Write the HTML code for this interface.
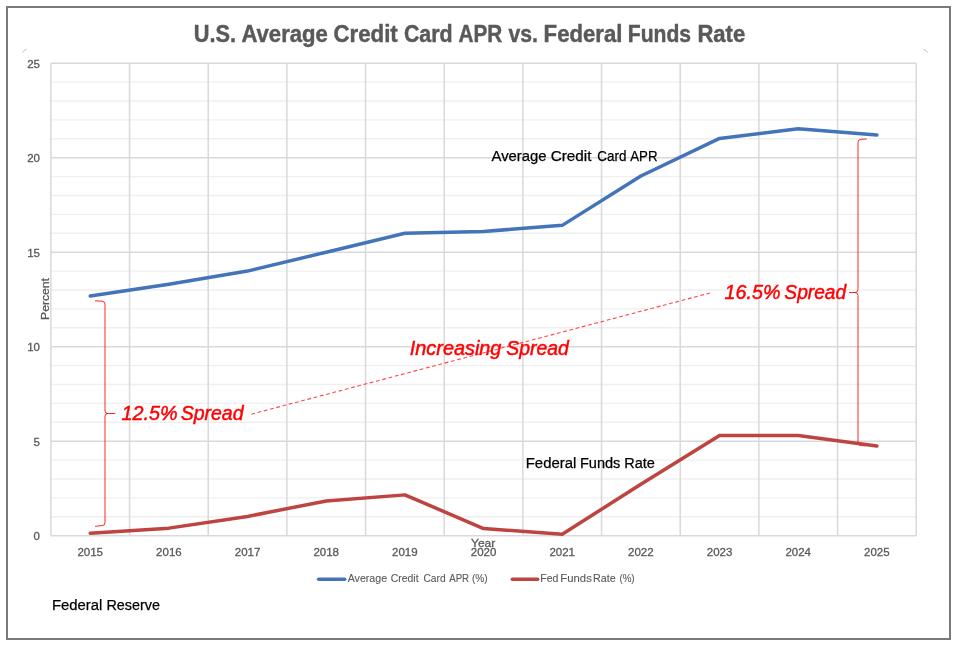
<!DOCTYPE html>
<html><head><meta charset="utf-8"><style>
html,body{margin:0;padding:0;background:#fff;}
svg{display:block;will-change:transform;}
text{font-family:"Liberation Sans",sans-serif;}
.ax{font-size:11.5px;fill:#595959;stroke:#595959;stroke-width:0.3px;}
.lab{font-size:15.3px;fill:#000;stroke:#000;stroke-width:0.25px;}
.red{font-size:20px;fill:#FF0000;font-style:italic;stroke:#FF0000;stroke-width:0.45px;}
.leg{font-size:10.7px;fill:#595959;stroke:#595959;stroke-width:0.1px;}
</style></head><body>
<svg width="964" height="649" viewBox="0 0 964 649">
<rect x="0" y="0" width="964" height="649" fill="#fff"/>
<rect x="7" y="7" width="943" height="632" fill="none" stroke="#797979" stroke-width="2"/>
<path d="M22.5,52.5 Q24,50 26.5,49.5" fill="none" stroke="#bbb" stroke-width="1"/>
<path d="M923.5,49.5 Q926,50 927.5,52.5" fill="none" stroke="#bbb" stroke-width="1"/>
<line x1="50.9" y1="516.80" x2="916.2" y2="516.80" stroke="#EFEFEF" stroke-width="1.4"/><line x1="50.9" y1="497.90" x2="916.2" y2="497.90" stroke="#EFEFEF" stroke-width="1.4"/><line x1="50.9" y1="479.00" x2="916.2" y2="479.00" stroke="#EFEFEF" stroke-width="1.4"/><line x1="50.9" y1="460.10" x2="916.2" y2="460.10" stroke="#EFEFEF" stroke-width="1.4"/><line x1="50.9" y1="422.30" x2="916.2" y2="422.30" stroke="#EFEFEF" stroke-width="1.4"/><line x1="50.9" y1="403.40" x2="916.2" y2="403.40" stroke="#EFEFEF" stroke-width="1.4"/><line x1="50.9" y1="384.50" x2="916.2" y2="384.50" stroke="#EFEFEF" stroke-width="1.4"/><line x1="50.9" y1="365.60" x2="916.2" y2="365.60" stroke="#EFEFEF" stroke-width="1.4"/><line x1="50.9" y1="327.80" x2="916.2" y2="327.80" stroke="#EFEFEF" stroke-width="1.4"/><line x1="50.9" y1="308.90" x2="916.2" y2="308.90" stroke="#EFEFEF" stroke-width="1.4"/><line x1="50.9" y1="290.00" x2="916.2" y2="290.00" stroke="#EFEFEF" stroke-width="1.4"/><line x1="50.9" y1="271.10" x2="916.2" y2="271.10" stroke="#EFEFEF" stroke-width="1.4"/><line x1="50.9" y1="233.30" x2="916.2" y2="233.30" stroke="#EFEFEF" stroke-width="1.4"/><line x1="50.9" y1="214.40" x2="916.2" y2="214.40" stroke="#EFEFEF" stroke-width="1.4"/><line x1="50.9" y1="195.50" x2="916.2" y2="195.50" stroke="#EFEFEF" stroke-width="1.4"/><line x1="50.9" y1="176.60" x2="916.2" y2="176.60" stroke="#EFEFEF" stroke-width="1.4"/><line x1="50.9" y1="138.80" x2="916.2" y2="138.80" stroke="#EFEFEF" stroke-width="1.4"/><line x1="50.9" y1="119.90" x2="916.2" y2="119.90" stroke="#EFEFEF" stroke-width="1.4"/><line x1="50.9" y1="101.00" x2="916.2" y2="101.00" stroke="#EFEFEF" stroke-width="1.4"/><line x1="50.9" y1="82.10" x2="916.2" y2="82.10" stroke="#EFEFEF" stroke-width="1.4"/><line x1="50.9" y1="535.70" x2="916.2" y2="535.70" stroke="#D9D9D9" stroke-width="1.5"/><line x1="50.9" y1="441.20" x2="916.2" y2="441.20" stroke="#D9D9D9" stroke-width="1.5"/><line x1="50.9" y1="346.70" x2="916.2" y2="346.70" stroke="#D9D9D9" stroke-width="1.5"/><line x1="50.9" y1="252.20" x2="916.2" y2="252.20" stroke="#D9D9D9" stroke-width="1.5"/><line x1="50.9" y1="157.70" x2="916.2" y2="157.70" stroke="#D9D9D9" stroke-width="1.5"/><line x1="50.9" y1="63.20" x2="916.2" y2="63.20" stroke="#D9D9D9" stroke-width="1.5"/><line x1="50.90" y1="63.2" x2="50.90" y2="535.7" stroke="#D9D9D9" stroke-width="1.5"/><line x1="129.56" y1="63.2" x2="129.56" y2="535.7" stroke="#D9D9D9" stroke-width="1.5"/><line x1="208.23" y1="63.2" x2="208.23" y2="535.7" stroke="#D9D9D9" stroke-width="1.5"/><line x1="286.89" y1="63.2" x2="286.89" y2="535.7" stroke="#D9D9D9" stroke-width="1.5"/><line x1="365.55" y1="63.2" x2="365.55" y2="535.7" stroke="#D9D9D9" stroke-width="1.5"/><line x1="444.22" y1="63.2" x2="444.22" y2="535.7" stroke="#D9D9D9" stroke-width="1.5"/><line x1="522.88" y1="63.2" x2="522.88" y2="535.7" stroke="#D9D9D9" stroke-width="1.5"/><line x1="601.55" y1="63.2" x2="601.55" y2="535.7" stroke="#D9D9D9" stroke-width="1.5"/><line x1="680.21" y1="63.2" x2="680.21" y2="535.7" stroke="#D9D9D9" stroke-width="1.5"/><line x1="758.87" y1="63.2" x2="758.87" y2="535.7" stroke="#D9D9D9" stroke-width="1.5"/><line x1="837.54" y1="63.2" x2="837.54" y2="535.7" stroke="#D9D9D9" stroke-width="1.5"/><line x1="916.20" y1="63.2" x2="916.20" y2="535.7" stroke="#D9D9D9" stroke-width="1.5"/>
<!-- annotations -->
<path d="M95,300.8 L102,301.2 Q105,301.5 105,304 L105,411 Q105,413.5 108,413.5 L115.2,413.5 M108,413.5 Q105,413.5 105,416 L105,523 Q105,525.5 102,525.6 L95,526.3" fill="none" stroke="#FF0000" stroke-width="1" stroke-opacity="0.85"/>
<path d="M866.7,139.0 L861,139.2 Q858,139.5 858,142.5 L858,289.5 Q858,292.5 855,292.5 L849,292.5 M855,292.5 Q858,292.5 858,295.5 L858,442.5 Q858,445.5 861,445.6 L866,445.8" fill="none" stroke="#FF0000" stroke-width="1" stroke-opacity="0.85"/>
<line x1="251.3" y1="414.2" x2="710" y2="293" stroke="#FF0000" stroke-width="1.1" stroke-dasharray="3.8,2.65" stroke-opacity="0.72"/>
<polyline points="90.23,296.05 168.90,284.33 247.56,271.10 326.22,252.20 404.89,233.30 483.55,231.41 562.21,225.36 640.88,176.03 719.54,138.42 798.20,128.78 876.87,135.02" fill="none" stroke="#4374B9" stroke-width="3.5" stroke-linejoin="round" stroke-linecap="round"/>
<polyline points="90.23,533.24 168.90,528.14 247.56,516.42 326.22,500.92 404.89,494.88 483.55,528.52 562.21,534.19 640.88,484.29 719.54,435.53 798.20,435.53 876.87,445.93" fill="none" stroke="#BD4441" stroke-width="3.5" stroke-linejoin="round" stroke-linecap="round"/>
<text x="40.0" y="540.3" text-anchor="end" class="ax">0</text><text x="40.0" y="445.8" text-anchor="end" class="ax">5</text><text x="40.0" y="351.3" text-anchor="end" class="ax">10</text><text x="40.0" y="256.8" text-anchor="end" class="ax">15</text><text x="40.0" y="162.3" text-anchor="end" class="ax">20</text><text x="40.0" y="67.8" text-anchor="end" class="ax">25</text><text x="90.23" y="556.2" text-anchor="middle" class="ax">2015</text><text x="168.90" y="556.2" text-anchor="middle" class="ax">2016</text><text x="247.56" y="556.2" text-anchor="middle" class="ax">2017</text><text x="326.22" y="556.2" text-anchor="middle" class="ax">2018</text><text x="404.89" y="556.2" text-anchor="middle" class="ax">2019</text><text x="483.55" y="556.2" text-anchor="middle" class="ax">2020</text><text x="562.21" y="556.2" text-anchor="middle" class="ax">2021</text><text x="640.88" y="556.2" text-anchor="middle" class="ax">2022</text><text x="719.54" y="556.2" text-anchor="middle" class="ax">2023</text><text x="798.20" y="556.2" text-anchor="middle" class="ax">2024</text><text x="876.87" y="556.2" text-anchor="middle" class="ax">2025</text>
<text x="193.69" y="42.1"  font-size="23.4" font-weight="bold" fill="#595959" stroke="#595959" stroke-width="0.45" textLength="42.30" lengthAdjust="spacingAndGlyphs">U.S.</text>
<text x="241.45" y="42.1"  font-size="23.4" font-weight="bold" fill="#595959" stroke="#595959" stroke-width="0.45" textLength="86.39" lengthAdjust="spacingAndGlyphs">Average</text>
<text x="333.39" y="42.1"  font-size="23.4" font-weight="bold" fill="#595959" stroke="#595959" stroke-width="0.45" textLength="64.39" lengthAdjust="spacingAndGlyphs">Credit</text>
<text x="403.92" y="42.1"  font-size="23.4" font-weight="bold" fill="#595959" stroke="#595959" stroke-width="0.45" textLength="48.79" lengthAdjust="spacingAndGlyphs">Card</text>
<text x="458.48" y="42.1"  font-size="23.4" font-weight="bold" fill="#595959" stroke="#595959" stroke-width="0.45" textLength="43.74" lengthAdjust="spacingAndGlyphs">APR</text>
<text x="508.42" y="42.1"  font-size="23.4" font-weight="bold" fill="#595959" stroke="#595959" stroke-width="0.45" textLength="29.44" lengthAdjust="spacingAndGlyphs">vs.</text>
<text x="543.62" y="42.1"  font-size="23.4" font-weight="bold" fill="#595959" stroke="#595959" stroke-width="0.45" textLength="78.75" lengthAdjust="spacingAndGlyphs">Federal</text>
<text x="627.79" y="42.1"  font-size="23.4" font-weight="bold" fill="#595959" stroke="#595959" stroke-width="0.45" textLength="63.28" lengthAdjust="spacingAndGlyphs">Funds</text>
<text x="697.42" y="42.1"  font-size="23.4" font-weight="bold" fill="#595959" stroke="#595959" stroke-width="0.45" textLength="47.83" lengthAdjust="spacingAndGlyphs">Rate</text>
<text x="471.05" y="547.3" class="ax"  textLength="24.24" lengthAdjust="spacingAndGlyphs">Year</text>
<g transform="translate(49.3,318.9) rotate(-90)"><text x="-1.00" y="0" class="ax" font-size="12"  textLength="41.89" lengthAdjust="spacingAndGlyphs">Percent</text></g>
<text x="491.57" y="160.7" class="lab"  textLength="54.98" lengthAdjust="spacingAndGlyphs">Average</text>
<text x="550.73" y="160.7" class="lab"  textLength="40.69" lengthAdjust="spacingAndGlyphs">Credit</text>
<text x="597.22" y="160.7" class="lab"  textLength="29.15" lengthAdjust="spacingAndGlyphs">Card</text>
<text x="630.17" y="160.7" class="lab"  textLength="27.34" lengthAdjust="spacingAndGlyphs">APR</text>
<text x="525.78" y="467.7" class="lab"  textLength="50.52" lengthAdjust="spacingAndGlyphs">Federal</text>
<text x="579.90" y="467.7" class="lab"  textLength="40.52" lengthAdjust="spacingAndGlyphs">Funds</text>
<text x="624.21" y="467.7" class="lab"  textLength="30.69" lengthAdjust="spacingAndGlyphs">Rate</text>
<text x="51.88" y="609.7" class="lab"  textLength="50.31" lengthAdjust="spacingAndGlyphs">Federal</text>
<text x="106.42" y="609.7" class="lab"  textLength="53.52" lengthAdjust="spacingAndGlyphs">Reserve</text>
<text x="121.49" y="420.2" class="red"  textLength="56.16" lengthAdjust="spacingAndGlyphs">12.5%</text>
<text x="180.65" y="420.2" class="red"  textLength="62.94" lengthAdjust="spacingAndGlyphs">Spread</text>
<text x="724.49" y="299.0" class="red"  textLength="55.96" lengthAdjust="spacingAndGlyphs">16.5%</text>
<text x="784.36" y="299.0" class="red"  textLength="61.74" lengthAdjust="spacingAndGlyphs">Spread</text>
<text x="409.82" y="355.1" class="red"  textLength="91.56" lengthAdjust="spacingAndGlyphs">Increasing</text>
<text x="506.25" y="355.1" class="red"  textLength="62.54" lengthAdjust="spacingAndGlyphs">Spread</text>
<line x1="318.6" y1="579.2" x2="344.7" y2="579.2" stroke="#4374B9" stroke-width="3.5" stroke-linecap="round"/>
<text x="347.68" y="581.9" class="leg"  textLength="39.39" lengthAdjust="spacingAndGlyphs">Average</text>
<text x="390.77" y="581.9" class="leg"  textLength="27.81" lengthAdjust="spacingAndGlyphs">Credit</text>
<text x="423.48" y="581.9" class="leg"  textLength="22.18" lengthAdjust="spacingAndGlyphs">Card</text>
<text x="449.18" y="581.9" class="leg"  textLength="19.97" lengthAdjust="spacingAndGlyphs">APR</text>
<text x="471.98" y="581.9" class="leg"  textLength="15.65" lengthAdjust="spacingAndGlyphs">(%)</text>
<line x1="512.3" y1="579.3" x2="537.7" y2="579.3" stroke="#BD4441" stroke-width="3.5" stroke-linecap="round"/>
<text x="540.24" y="581.9" class="leg"  textLength="18.14" lengthAdjust="spacingAndGlyphs">Fed</text>
<text x="560.37" y="581.9" class="leg"  textLength="31.44" lengthAdjust="spacingAndGlyphs">Funds</text>
<text x="593.12" y="581.9" class="leg"  textLength="22.66" lengthAdjust="spacingAndGlyphs">Rate</text>
<text x="619.39" y="581.9" class="leg"  textLength="15.21" lengthAdjust="spacingAndGlyphs">(%)</text>
</svg>
</body></html>
